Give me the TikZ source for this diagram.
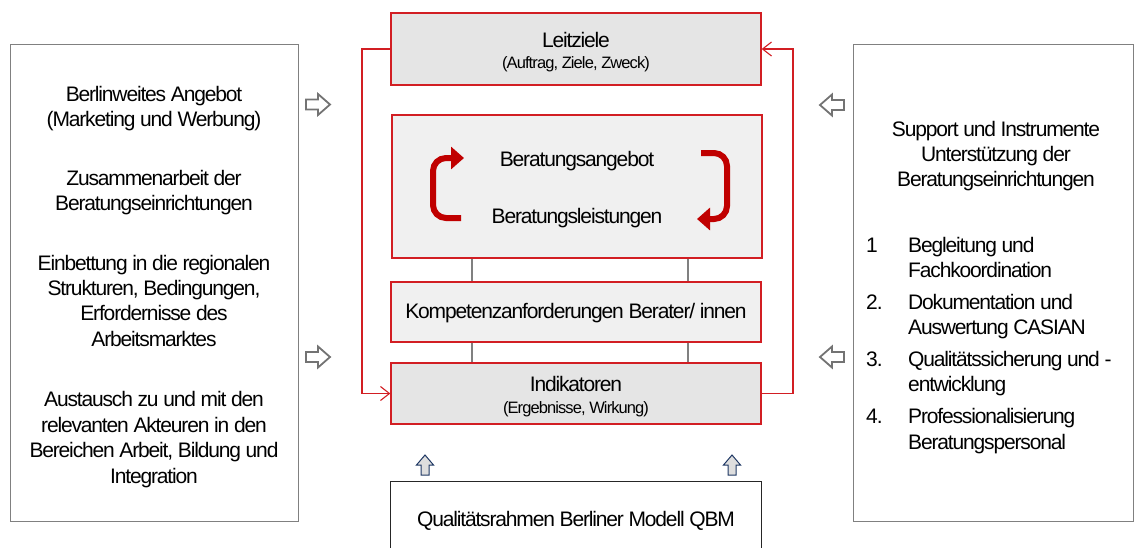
\documentclass[tikz,border=0pt]{standalone}
\usepackage{fontspec}
\setmainfont{Liberation Sans}[LetterSpace=-5.5]
\usetikzlibrary{arrows.meta,calc}
\definecolor{boxred}{RGB}{210,30,35}
\definecolor{cycred}{RGB}{192,0,0}
\definecolor{navyline}{RGB}{31,56,100}
\begin{document}
\begin{tikzpicture}[x=1pt,y=-1pt,
  redbox/.style={draw=boxred, line width=1.3pt, minimum width=370pt, inner sep=0pt, align=center, font=\fontsize{21}{22}\selectfont},
  sidebox/.style={draw=black!50, line width=0.9pt, minimum width=#1, minimum height=477pt, inner sep=0pt},
  txt/.style={anchor=base, inner sep=0pt, font=\fontsize{21}{23}\selectfont},
  txtw/.style={anchor=base west, inner sep=0pt, font=\fontsize{21}{23}\selectfont},
  sub/.style={anchor=base, inner sep=0pt, font=\fontsize{16.5}{18}\selectfont},
  fb/.style={draw=boxred, line width=1.1pt, -{Straight Barb[length=9pt,width=14pt]}},
  cyc/.style={draw=cycred, line width=6pt, rounded corners=13pt, -{Triangle[length=13pt,width=22pt]}},
  link/.style={draw=black!50, line width=2pt},
  hollowR/.pic={\draw[draw=black!55, fill=white, line width=1.8pt, line join=miter]
     (-12,-5) -- (0,-5) -- (0,-10.5) -- (12,0) -- (0,10.5) -- (0,5) -- (-12,5) -- cycle;},
  hollowU/.pic={\draw[draw=navyline, fill=black!13, line width=1pt, line join=miter]
     (-4,10) -- (-4,0) -- (-8.5,0) -- (0,-10) -- (8.5,0) -- (4,0) -- (4,10) -- cycle;}
]
\useasboundingbox (0,0) rectangle (1135,547);

% side boxes
\node[sidebox=288pt] (lbox) at (154,282.5) {};
\node[sidebox=280pt] (rbox) at (993,282.5) {};

% central boxes
\node[redbox, fill=black!10, minimum height=72pt] (leit) at (576,49) {};
\node[redbox, fill=black!6, minimum height=143pt] (ber) at (577,186.5) {};
\node[redbox, fill=black!6, minimum height=60pt] (komp) at (576,312) {};
\node[redbox, fill=black!10, minimum height=61pt] (ind) at (576,393.5) {};
\node[draw=black!85, line width=1pt, minimum width=371pt, minimum height=80pt, inner sep=0pt] (qbm) at (575.5,521) {};

\node[txt] (lt1) at (576,47) {Leitziele};
\node[sub] (lt2) at (576,68) {(Auftrag, Ziele, Zweck)};
\node[txt] (ba) at (577,166) {Beratungsangebot};
\node[txt] (bl) at (577,223) {Beratungsleistungen};
\node[txt] (kt) at (576,318) {Kompetenzanforderungen Berater/ innen};
\node[txt] (it1) at (576,391) {Indikatoren};
\node[sub] (it2) at (576,413) {(Ergebnisse, Wirkung)};
\node[txt] (qt) at (576,526) {Qualitätsrahmen Berliner Modell QBM};

% cycle arrows
\draw[cyc] (461,218) -- (433,218) -- (433,158) -- (464,158);
\draw[cyc] (701,153) -- (727,153) -- (727,219) -- (697,219);

% gray links
\coordinate (g1) at (472,0);
\coordinate (g2) at (688,0);
\draw[link] (ber.south -| g1) -- (komp.north -| g1);
\draw[link] (ber.south -| g2) -- (komp.north -| g2);
\draw[link] (komp.south -| g1) -- (ind.north -| g1);
\draw[link] (komp.south -| g2) -- (ind.north -| g2);

% feedback
\coordinate (lc) at (362,220);
\coordinate (rc) at (793,220);
\draw[fb] (leit.west) -| (lc) |- (ind.west);
\draw[fb] (ind.east) -| (rc) |- (leit.east);

% hollow arrows
\pic (ha1) at (318,104.5) {hollowR};
\pic (ha2) at (318,357) {hollowR};
\pic[rotate=180] (ha3) at (832,105) {hollowR};
\pic[rotate=180] (ha4) at (832,357) {hollowR};
\pic (ua1) at (425,465) {hollowU};
\pic (ua2) at (732,465) {hollowU};

% left text
\foreach \t/\y [count=\i] in {Berlinweites Angebot/101.5,(Marketing und Werbung)/126.5,
   Zusammenarbeit der/185,Beratungseinrichtungen/210,
   Einbettung in die regionalen/270,{Strukturen, Bedingungen,}/295,Erfordernisse des/320.5,Arbeitsmarktes/346,
   Austausch zu und mit den/406.5,relevanten Akteuren in den/432,{Bereichen Arbeit, Bildung und}/457.5,Integration/483} {
  \node[txt] (l\i) at (154,\y) {\t};}

% right text
\foreach \t/\y [count=\i] in {Support und Instrumente/136,Unterstützung der/161,Beratungseinrichtungen/186} {
  \node[txt] (ra\i) at (996,\y) {\t};}
\node[txtw] (n1) at (866,252) {1};
\node[txtw] (n2) at (866,309) {2.};
\node[txtw] (n3) at (866,366) {3.};
\node[txtw] (n4) at (866,423) {4.};
\node[txtw] (r1a) at (908,252) {Begleitung und};
\node[txtw] (r1b) at (908,277) {Fachkoordination};
\node[txtw] (r2a) at (908,309) {Dokumentation und};
\node[txtw] (r2b) at (908,334) {Auswertung CASIAN};
\node[txtw] (r3a) at (908,366) {Qualitätssicherung und -};
\node[txtw] (r3b) at (908,391) {entwicklung};
\node[txtw] (r4a) at (908,423) {Professionalisierung};
\node[txtw] (r4b) at (908,449) {Beratungspersonal};
\end{tikzpicture}
\end{document}
